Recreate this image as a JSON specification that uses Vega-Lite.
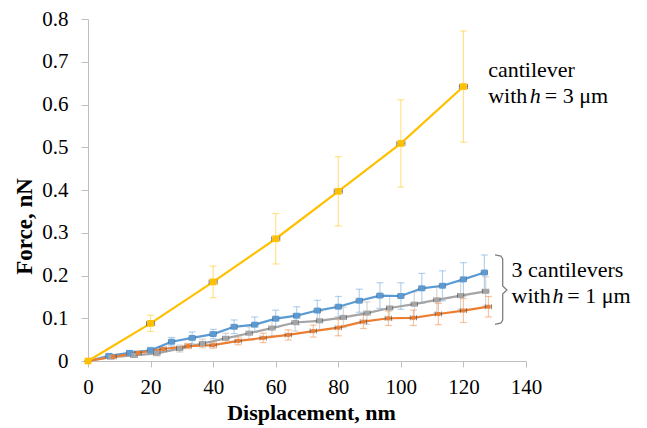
{
  "$schema": "https://vega.github.io/schema/vega-lite/v6.json",
  "width": 438,
  "height": 342,
  "autosize": {"type": "none"},
  "padding": {"left": 88, "top": 19, "right": 121, "bottom": 67},
  "background": "white",
  "config": {"view": {"stroke": null}, "font": "Liberation Serif, DejaVu Serif"},
  "datasets": {
    "series": [
      {"s": "b", "x": 0, "y": 0, "e": 0, "xe": 0},
      {"s": "b", "x": 6.7, "y": 0.012, "e": 0.004, "xe": 1},
      {"s": "b", "x": 13.3, "y": 0.019, "e": 0.005, "xe": 1},
      {"s": "b", "x": 20, "y": 0.025, "e": 0.007, "xe": 1},
      {"s": "b", "x": 26.7, "y": 0.045, "e": 0.01, "xe": 1},
      {"s": "b", "x": 33.3, "y": 0.054, "e": 0.014, "xe": 1},
      {"s": "b", "x": 40, "y": 0.063, "e": 0.011, "xe": 1},
      {"s": "b", "x": 46.7, "y": 0.080, "e": 0.016, "xe": 1},
      {"s": "b", "x": 53.3, "y": 0.085, "e": 0.018, "xe": 1},
      {"s": "b", "x": 60, "y": 0.099, "e": 0.02, "xe": 1},
      {"s": "b", "x": 66.7, "y": 0.106, "e": 0.021, "xe": 1},
      {"s": "b", "x": 73.3, "y": 0.118, "e": 0.024, "xe": 1},
      {"s": "b", "x": 80, "y": 0.127, "e": 0.024, "xe": 1},
      {"s": "b", "x": 86.7, "y": 0.141, "e": 0.027, "xe": 1},
      {"s": "b", "x": 93.3, "y": 0.153, "e": 0.03, "xe": 1},
      {"s": "b", "x": 100, "y": 0.152, "e": 0.031, "xe": 1},
      {"s": "b", "x": 106.7, "y": 0.170, "e": 0.035, "xe": 1},
      {"s": "b", "x": 113.3, "y": 0.176, "e": 0.035, "xe": 1},
      {"s": "b", "x": 120, "y": 0.191, "e": 0.039, "xe": 1},
      {"s": "b", "x": 126.7, "y": 0.207, "e": 0.041, "xe": 1},
      {"s": "g", "x": 0, "y": 0, "e": 0, "xe": 0},
      {"s": "g", "x": 7.3, "y": 0.009, "e": 0.003, "xe": 1},
      {"s": "g", "x": 14.7, "y": 0.013, "e": 0.004, "xe": 1},
      {"s": "g", "x": 22, "y": 0.018, "e": 0.006, "xe": 1},
      {"s": "g", "x": 29.3, "y": 0.029, "e": 0.008, "xe": 1},
      {"s": "g", "x": 36.6, "y": 0.041, "e": 0.01, "xe": 1},
      {"s": "g", "x": 44, "y": 0.053, "e": 0.012, "xe": 1},
      {"s": "g", "x": 51.5, "y": 0.065, "e": 0.015, "xe": 1},
      {"s": "g", "x": 58.8, "y": 0.077, "e": 0.018, "xe": 1},
      {"s": "g", "x": 66.2, "y": 0.090, "e": 0.02, "xe": 1},
      {"s": "g", "x": 74, "y": 0.094, "e": 0.022, "xe": 1},
      {"s": "g", "x": 81.6, "y": 0.102, "e": 0.024, "xe": 1},
      {"s": "g", "x": 89.2, "y": 0.112, "e": 0.026, "xe": 1},
      {"s": "g", "x": 96.4, "y": 0.124, "e": 0.028, "xe": 1},
      {"s": "g", "x": 104.3, "y": 0.133, "e": 0.029, "xe": 1},
      {"s": "g", "x": 111.5, "y": 0.143, "e": 0.03, "xe": 1},
      {"s": "g", "x": 119.1, "y": 0.153, "e": 0.032, "xe": 1},
      {"s": "g", "x": 127.1, "y": 0.163, "e": 0.034, "xe": 1},
      {"s": "o", "x": 0, "y": 0, "e": 0, "xe": 0},
      {"s": "o", "x": 8, "y": 0.010, "e": 0.003, "xe": 1},
      {"s": "o", "x": 16, "y": 0.019, "e": 0.004, "xe": 1},
      {"s": "o", "x": 24, "y": 0.028, "e": 0.005, "xe": 1},
      {"s": "o", "x": 32, "y": 0.035, "e": 0.006, "xe": 1},
      {"s": "o", "x": 40, "y": 0.037, "e": 0.007, "xe": 1},
      {"s": "o", "x": 48, "y": 0.047, "e": 0.009, "xe": 1},
      {"s": "o", "x": 56, "y": 0.054, "e": 0.011, "xe": 1},
      {"s": "o", "x": 64, "y": 0.061, "e": 0.012, "xe": 1},
      {"s": "o", "x": 72, "y": 0.070, "e": 0.014, "xe": 1},
      {"s": "o", "x": 80, "y": 0.078, "e": 0.019, "xe": 1},
      {"s": "o", "x": 88, "y": 0.092, "e": 0.016, "xe": 1},
      {"s": "o", "x": 96, "y": 0.100, "e": 0.017, "xe": 1},
      {"s": "o", "x": 104, "y": 0.101, "e": 0.018, "xe": 1},
      {"s": "o", "x": 112, "y": 0.110, "e": 0.025, "xe": 1},
      {"s": "o", "x": 120, "y": 0.118, "e": 0.028, "xe": 1},
      {"s": "o", "x": 128, "y": 0.127, "e": 0.024, "xe": 1},
      {"s": "h3", "x": 0, "y": 0, "e": 0, "xe": 0},
      {"s": "h3", "x": 20, "y": 0.088, "e": 0.019, "xe": 1.3},
      {"s": "h3", "x": 40, "y": 0.185, "e": 0.037, "xe": 1.3},
      {"s": "h3", "x": 60, "y": 0.286, "e": 0.059, "xe": 1.3},
      {"s": "h3", "x": 80, "y": 0.397, "e": 0.081, "xe": 1.3},
      {"s": "h3", "x": 100, "y": 0.509, "e": 0.102, "xe": 1.3},
      {"s": "h3", "x": 120, "y": 0.642, "e": 0.13, "xe": 1.3}
    ],
    "notes": [
      {"x": 127.9, "y": 0.664, "t": "cantilever", "it": 0},
      {"x": 127.9, "y": 0.6035, "t": "with", "it": 0},
      {"x": 141.2, "y": 0.6035, "t": "h", "it": 1},
      {"x": 146.0, "y": 0.6035, "t": "= 3 μm", "it": 0},
      {"x": 135.4, "y": 0.1965, "t": "3 cantilevers", "it": 0},
      {"x": 135.4, "y": 0.1357, "t": "with", "it": 0},
      {"x": 148.5, "y": 0.1357, "t": "h", "it": 1},
      {"x": 153.2, "y": 0.1357, "t": "= 1 μm", "it": 0}
    ],
    "brace": [
      {"i": 1, "x": 130.1, "y": 0.248},
      {"i": 2, "x": 132.0, "y": 0.2456},
      {"i": 3, "x": 132.55, "y": 0.2386},
      {"i": 4, "x": 132.55, "y": 0.1754},
      {"i": 5, "x": 133.9, "y": 0.1661},
      {"i": 6, "x": 132.55, "y": 0.1567},
      {"i": 7, "x": 132.55, "y": 0.0959},
      {"i": 8, "x": 132.0, "y": 0.0889},
      {"i": 9, "x": 130.1, "y": 0.0854}
    ]
  },
  "encoding": {
    "x": {
      "field": "x",
      "type": "quantitative",
      "scale": {"domain": [0, 140], "nice": false, "zero": false},
      "axis": {
        "values": [0, 20, 40, 60, 80, 100, 120, 140],
        "grid": false,
        "domainColor": "#BFBFBF",
        "tickColor": "#BFBFBF",
        "tickSize": 6,
        "labelFlush": false,
        "labelFont": "Liberation Serif, DejaVu Serif",
        "labelFontSize": 21,
        "labelColor": "#000000",
        "labelPadding": 9,
        "title": "Displacement, nm",
        "titleFont": "Liberation Serif, DejaVu Serif",
        "titleFontSize": 22,
        "titleFontWeight": "bold",
        "titleColor": "#000000",
        "titleX": 223,
        "titleY": 58,
        "titleBaseline": "alphabetic",
        "titleAlign": "center"
      }
    },
    "y": {
      "field": "y",
      "type": "quantitative",
      "scale": {"domain": [0, 0.8], "nice": false},
      "axis": {
        "values": [0, 0.1, 0.2, 0.3, 0.4, 0.5, 0.6, 0.7, 0.8],
        "labelExpr": "datum.value == 0 ? '0' : format(datum.value, '.1f')",
        "grid": false,
        "labelFlush": false,
        "domainColor": "#BFBFBF",
        "tickColor": "#BFBFBF",
        "tickSize": 7,
        "labelFont": "Liberation Serif, DejaVu Serif",
        "labelFontSize": 21,
        "labelColor": "#000000",
        "labelPadding": 13,
        "title": "Force, nN",
        "titleFont": "Liberation Serif, DejaVu Serif",
        "titleFontSize": 23,
        "titleFontWeight": "bold",
        "titleColor": "#000000",
        "titleAngle": -90,
        "titleX": -64,
        "titleY": 207,
        "titleBaseline": "middle",
        "titleAlign": "center"
      }
    }
  },
  "layer": [
    {
      "data": {"name": "series"},
      "mark": {"type": "errorbar", "ticks": {"size": 7}, "thickness": 1.2, "opacity": 0.45},
      "encoding": {
        "yError": {"field": "e"},
        "color": {
          "field": "s", "type": "nominal", "legend": null,
          "scale": {"domain": ["h3", "b", "g", "o"], "range": ["#FFC000", "#5B9BD5", "#A5A5A5", "#ED7D31"]}
        }
      }
    },
    {
      "data": {"name": "series"},
      "mark": {"type": "line", "strokeWidth": 2.2},
      "encoding": {
        "color": {"field": "s", "type": "nominal", "legend": null}
      }
    },
    {
      "data": {"name": "series"},
      "mark": {"type": "errorbar", "ticks": {"size": 5}, "thickness": 1, "color": "#595959", "opacity": 0.7},
      "encoding": {
        "xError": {"field": "xe"}
      }
    },
    {
      "data": {"name": "series"},
      "mark": {"type": "point", "shape": "square", "filled": true, "opacity": 1},
      "encoding": {
        "color": {"field": "s", "type": "nominal", "legend": null},
        "size": {
          "field": "s", "type": "nominal", "legend": null,
          "scale": {"domain": ["h3", "b", "g", "o"], "range": [45, 16, 16, 20]}
        }
      }
    },
    {
      "data": {"name": "brace"},
      "mark": {"type": "line", "color": "#7F7F7F", "strokeWidth": 1.3},
      "encoding": {"order": {"field": "i", "type": "quantitative"}}
    },
    {
      "data": {"name": "notes"},
      "transform": [{"filter": "datum.it == 0"}],
      "mark": {"type": "text", "align": "left", "baseline": "alphabetic", "font": "Liberation Serif, DejaVu Serif", "fontSize": 22, "color": "#000000"},
      "encoding": {"text": {"field": "t"}}
    },
    {
      "data": {"name": "notes"},
      "transform": [{"filter": "datum.it == 1"}],
      "mark": {"type": "text", "align": "left", "baseline": "alphabetic", "font": "Liberation Serif, DejaVu Serif", "fontSize": 22, "fontStyle": "italic", "color": "#000000"},
      "encoding": {"text": {"field": "t"}}
    }
  ]
}
